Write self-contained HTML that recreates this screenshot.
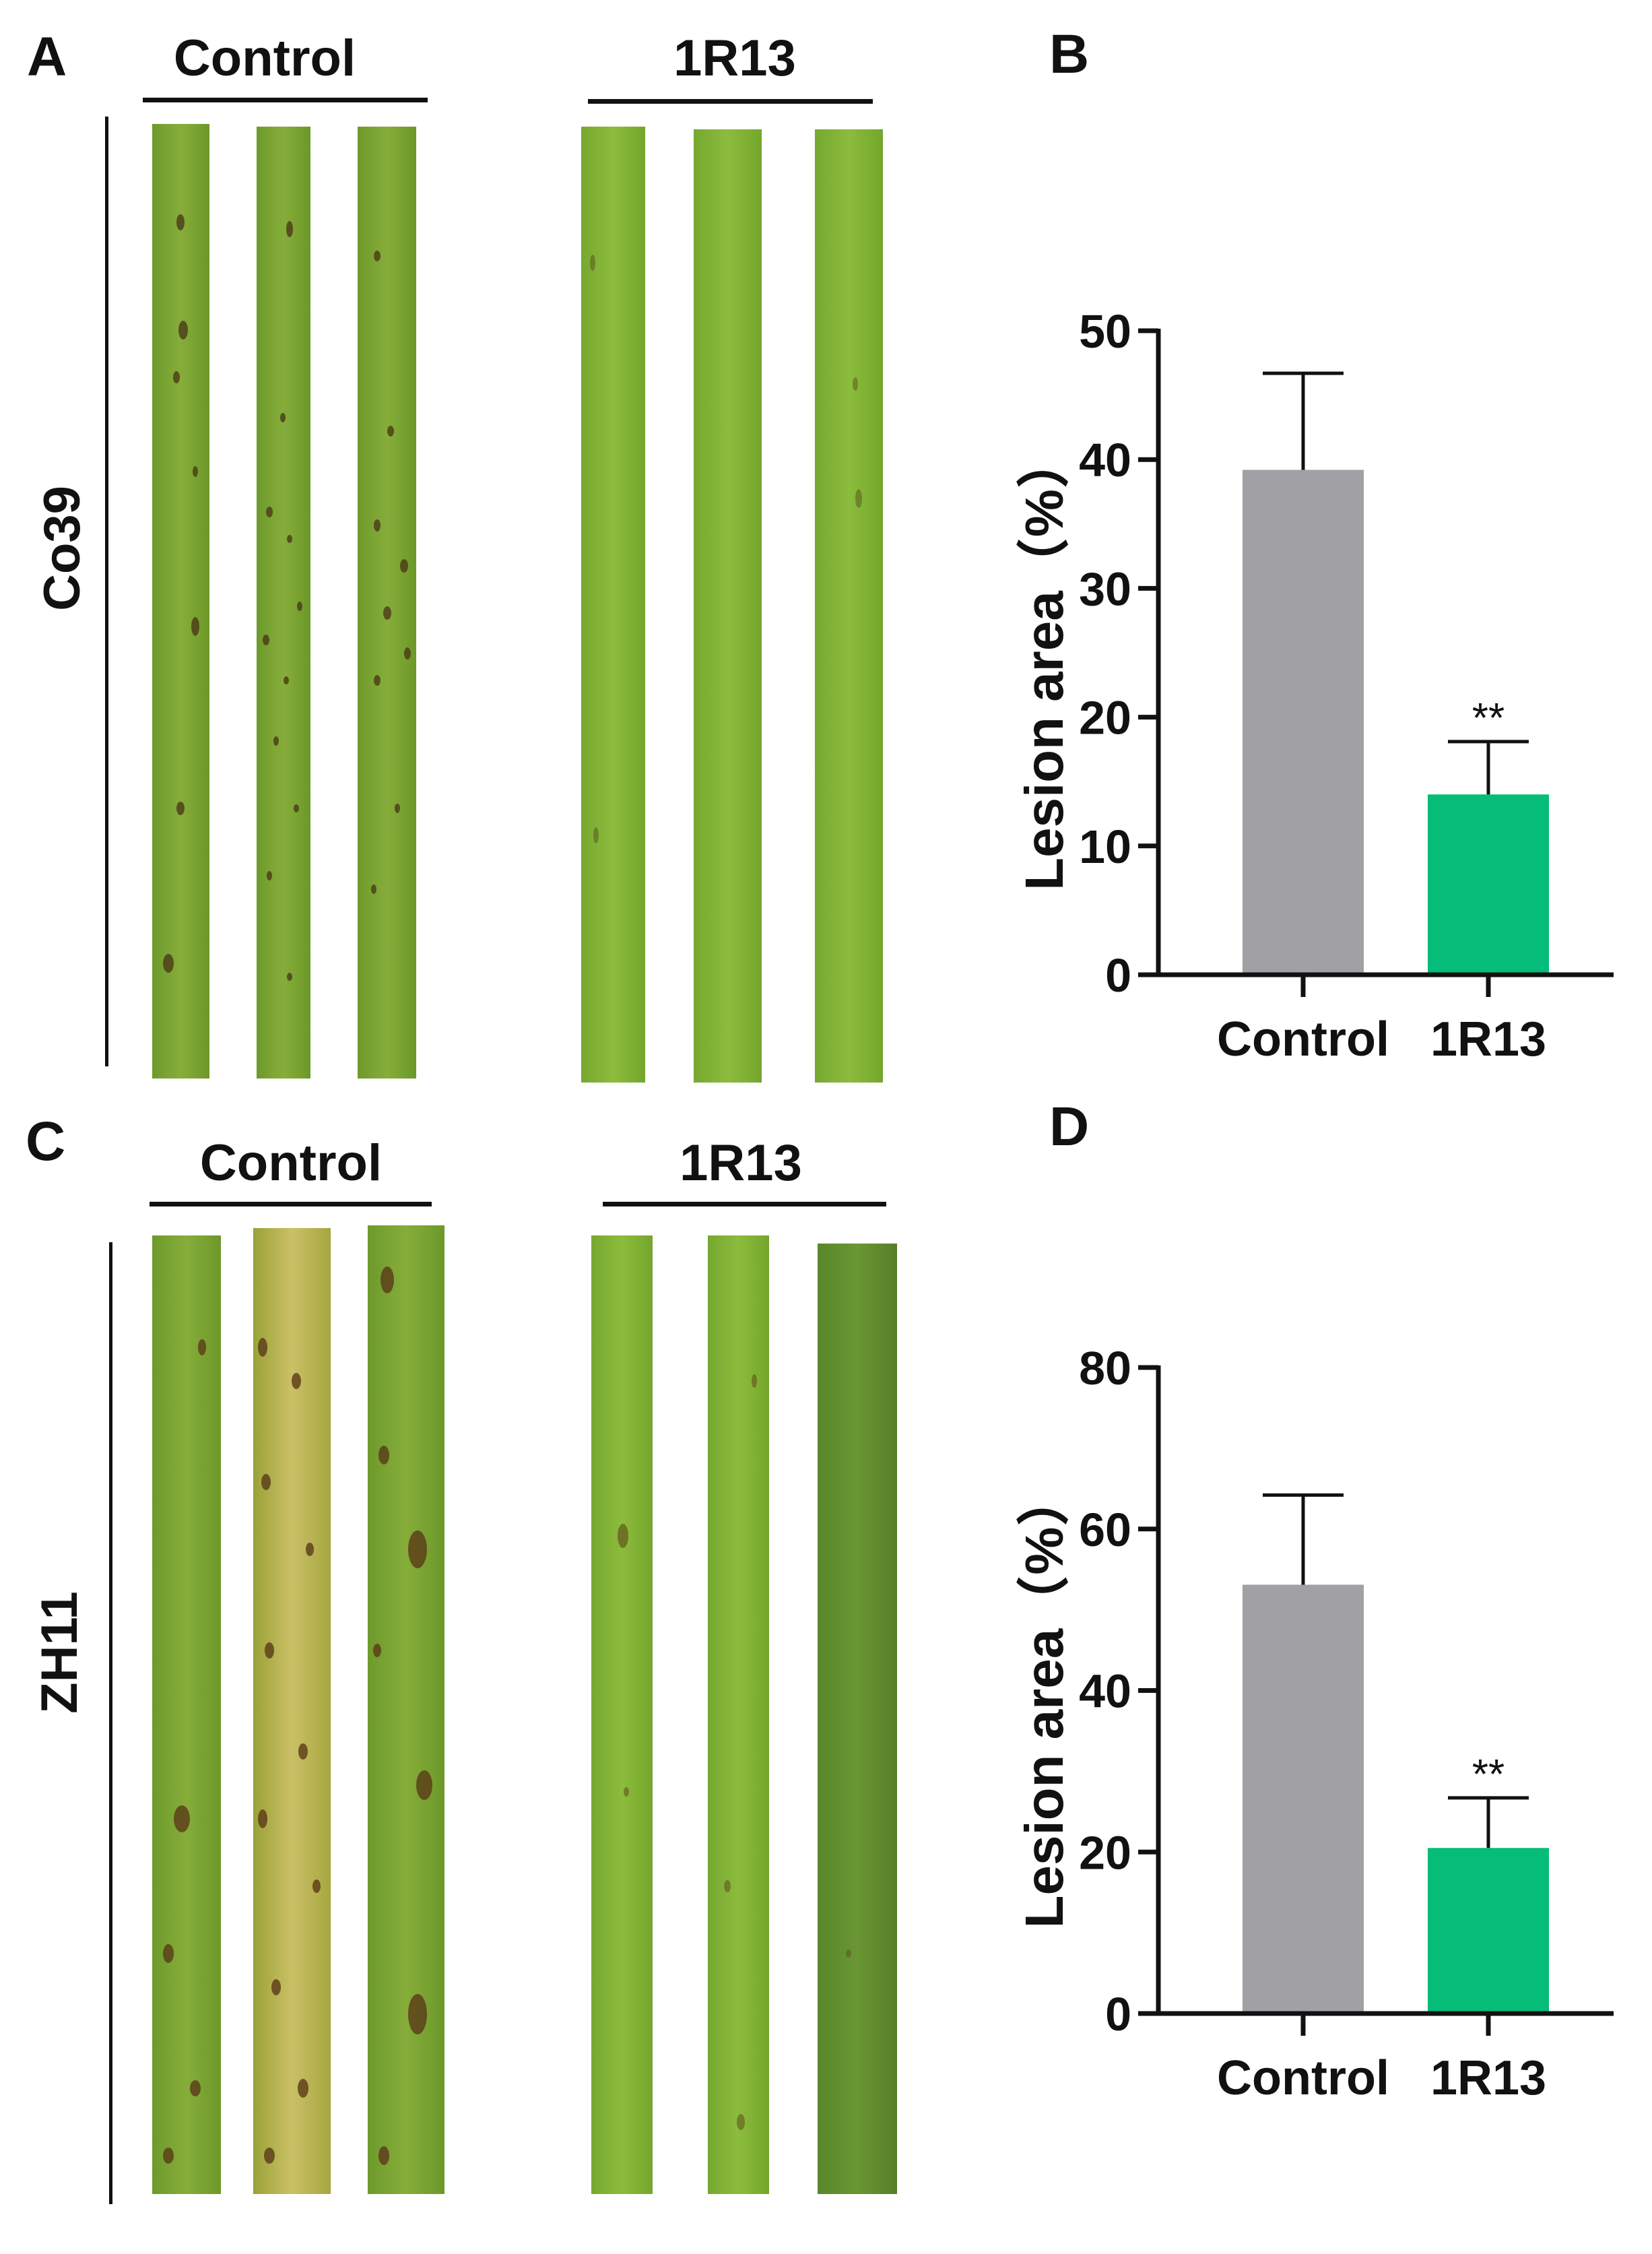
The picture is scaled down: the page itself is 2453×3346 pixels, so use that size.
<!DOCTYPE html>
<html><head><meta charset="utf-8">
<style>
html,body{margin:0;padding:0;background:#fff;}
svg text{font-family:"Liberation Sans","Noto Sans CJK SC",sans-serif;font-weight:bold;fill:#111;}
</style></head>
<body>
<svg id="fig" width="2453" height="3341" viewBox="0 0 2453 3341" xmlns="http://www.w3.org/2000/svg">
<defs>
<linearGradient id="gA" x1="0" x2="1"><stop offset="0" stop-color="#6d9a2c"/><stop offset="0.5" stop-color="#86ad3a"/><stop offset="1" stop-color="#6c9828"/></linearGradient>
<linearGradient id="gB" x1="0" x2="1"><stop offset="0" stop-color="#76a830"/><stop offset="0.5" stop-color="#8cbc3c"/><stop offset="1" stop-color="#74a62c"/></linearGradient>
<linearGradient id="gY" x1="0" x2="1"><stop offset="0" stop-color="#9aa238"/><stop offset="0.5" stop-color="#cbc066"/><stop offset="1" stop-color="#a6a640"/></linearGradient>
<linearGradient id="gD" x1="0" x2="1"><stop offset="0" stop-color="#58882a"/><stop offset="0.5" stop-color="#6a9634"/><stop offset="1" stop-color="#557f26"/></linearGradient>
</defs>

<!-- Panel A -->
<text x="40" y="112" font-size="82">A</text>
<text x="393" y="112" font-size="76" text-anchor="middle">Control</text>
<rect x="212" y="145" width="423" height="7" fill="#111"/>
<text x="1091" y="112" font-size="76" text-anchor="middle">1R13</text>
<rect x="873" y="147" width="423" height="7" fill="#111"/>
<rect x="156" y="173" width="5" height="1410" fill="#111"/>
<text transform="translate(118,814) rotate(-90)" font-size="76" text-anchor="middle">Co39</text>

<g>
<rect x="226" y="184" width="85" height="1417" fill="url(#gA)"/>
<rect x="381" y="188" width="80" height="1413" fill="url(#gA)"/>
<rect x="531" y="188" width="87" height="1413" fill="url(#gA)"/>
<rect x="863" y="188" width="95" height="1419" fill="url(#gB)"/>
<rect x="1030" y="192" width="101" height="1415" fill="url(#gB)"/>
<rect x="1210" y="192" width="101" height="1415" fill="url(#gB)"/>
<g fill="#4a3a18" opacity="0.8">
<ellipse cx="268" cy="330" rx="6" ry="12"/><ellipse cx="272" cy="490" rx="7" ry="14"/><ellipse cx="262" cy="560" rx="5" ry="9"/><ellipse cx="290" cy="930" rx="6" ry="14"/><ellipse cx="268" cy="1200" rx="6" ry="10"/><ellipse cx="250" cy="1430" rx="8" ry="14"/><ellipse cx="290" cy="700" rx="4" ry="8"/>
<ellipse cx="430" cy="340" rx="5" ry="12"/><ellipse cx="420" cy="620" rx="4" ry="7"/><ellipse cx="400" cy="760" rx="5" ry="8"/><ellipse cx="430" cy="800" rx="4" ry="6"/><ellipse cx="445" cy="900" rx="4" ry="7"/><ellipse cx="395" cy="950" rx="5" ry="8"/><ellipse cx="425" cy="1010" rx="4" ry="6"/><ellipse cx="410" cy="1100" rx="4" ry="7"/><ellipse cx="440" cy="1200" rx="4" ry="6"/><ellipse cx="400" cy="1300" rx="4" ry="7"/><ellipse cx="430" cy="1450" rx="4" ry="6"/>
<ellipse cx="560" cy="380" rx="5" ry="8"/><ellipse cx="580" cy="640" rx="5" ry="8"/><ellipse cx="560" cy="780" rx="5" ry="9"/><ellipse cx="600" cy="840" rx="6" ry="10"/><ellipse cx="575" cy="910" rx="6" ry="10"/><ellipse cx="605" cy="970" rx="5" ry="9"/><ellipse cx="560" cy="1010" rx="5" ry="8"/><ellipse cx="590" cy="1200" rx="4" ry="7"/><ellipse cx="555" cy="1320" rx="4" ry="7"/>
<ellipse cx="880" cy="390" rx="4" ry="12" opacity="0.5"/><ellipse cx="885" cy="1240" rx="4" ry="12" opacity="0.5"/><ellipse cx="1270" cy="570" rx="4" ry="10" opacity="0.5"/><ellipse cx="1275" cy="740" rx="5" ry="14" opacity="0.5"/>
</g>
</g>

<!-- Panel C -->
<text x="38" y="1722" font-size="82">C</text>
<text x="432" y="1752" font-size="76" text-anchor="middle">Control</text>
<rect x="222" y="1784" width="419" height="7" fill="#111"/>
<text x="1100" y="1752" font-size="76" text-anchor="middle">1R13</text>
<rect x="895" y="1784" width="421" height="7" fill="#111"/>
<rect x="162" y="1844" width="5" height="1428" fill="#111"/>
<text transform="translate(114,2453) rotate(-90)" font-size="76" text-anchor="middle">ZH11</text>

<g>
<rect x="226" y="1834" width="102" height="1423" fill="url(#gA)"/>
<rect x="376" y="1823" width="115" height="1434" fill="url(#gY)"/>
<rect x="546" y="1819" width="114" height="1438" fill="url(#gA)"/>
<rect x="878" y="1834" width="91" height="1423" fill="url(#gB)"/>
<rect x="1051" y="1834" width="91" height="1423" fill="url(#gB)"/>
<rect x="1214" y="1846" width="118" height="1411" fill="url(#gD)"/>
<g fill="#5a3a18" opacity="0.8">
<ellipse cx="300" cy="2000" rx="6" ry="12"/><ellipse cx="270" cy="2700" rx="12" ry="20"/><ellipse cx="250" cy="2900" rx="8" ry="14"/><ellipse cx="290" cy="3100" rx="8" ry="12"/><ellipse cx="250" cy="3200" rx="8" ry="12"/>
<ellipse cx="390" cy="2000" rx="7" ry="14"/><ellipse cx="440" cy="2050" rx="7" ry="12"/><ellipse cx="395" cy="2200" rx="7" ry="12"/><ellipse cx="460" cy="2300" rx="6" ry="10"/><ellipse cx="400" cy="2450" rx="7" ry="12"/><ellipse cx="450" cy="2600" rx="7" ry="12"/><ellipse cx="390" cy="2700" rx="7" ry="14"/><ellipse cx="470" cy="2800" rx="6" ry="10"/><ellipse cx="410" cy="2950" rx="7" ry="12"/><ellipse cx="450" cy="3100" rx="8" ry="14"/><ellipse cx="400" cy="3200" rx="8" ry="12"/>
<ellipse cx="575" cy="1900" rx="10" ry="20"/><ellipse cx="570" cy="2160" rx="8" ry="14"/><ellipse cx="620" cy="2300" rx="14" ry="28"/><ellipse cx="630" cy="2650" rx="12" ry="22"/><ellipse cx="560" cy="2450" rx="6" ry="10"/><ellipse cx="620" cy="2990" rx="14" ry="30"/><ellipse cx="570" cy="3200" rx="8" ry="14"/>
<ellipse cx="925" cy="2280" rx="8" ry="18" opacity="0.7"/><ellipse cx="930" cy="2660" rx="4" ry="7" opacity="0.6"/><ellipse cx="1120" cy="2050" rx="4" ry="10" opacity="0.6"/><ellipse cx="1080" cy="2800" rx="5" ry="9" opacity="0.6"/><ellipse cx="1100" cy="3150" rx="6" ry="12" opacity="0.6"/><ellipse cx="1260" cy="2900" rx="4" ry="6" opacity="0.5"/>
</g>
</g>

<text x="1558" y="108" font-size="82">B</text>
<text x="1558" y="1700" font-size="82">D</text>
<g id="chartB"></g>
<g id="chartD"></g>
</svg>
<script>
const categories = ["Control", "1R13"];
const valuesB = [39.2, 14.0];
const errorsB = [7.5, 4.1];
const ticksB = [0, 10, 20, 30, 40, 50];
const valuesD = [53.1, 20.5];
const errorsD = [11.1, 6.2];
const ticksD = [0, 20, 40, 60, 80];
const sigLabels = ["", "**"];
const colors = ["#a0a0a5", "#05bd78"];

const NS = "http://www.w3.org/2000/svg";
function mk(parent, tag, attrs, text) {
  const e = document.createElementNS(NS, tag);
  for (const k in attrs) e.setAttribute(k, attrs[k]);
  if (text !== undefined) e.textContent = text;
  parent.appendChild(e);
  return e;
}
function drawChart(gid, vals, errs, ticks, y0, yTop, prefix) {
  const g = document.getElementById(gid);
  const axX = 1720, xEnd = 2396;
  const maxV = ticks[ticks.length - 1];
  const y = v => y0 - (v / maxV) * (y0 - yTop);
  const centers = [1935, 2210];
  const bw = 180;
  vals.forEach((v, i) => {
    const b = mk(g, "rect", {x: centers[i] - bw / 2, y: y(v), width: bw, height: y0 - y(v), fill: colors[i]});
    
    
    const e = mk(g, "path", {d: `M${centers[i]},${y(v)}V${y(v + errs[i])}M${centers[i] - 60},${y(v + errs[i])}H${centers[i] + 60}`, stroke: "#111", "stroke-width": 5, fill: "none"});
    
    
    if (sigLabels[i]) {
      const s = mk(g, "text", {x: centers[i], y: y(v + errs[i]) - 14, "font-size": 62, "text-anchor": "middle", style: "font-weight:normal"}, sigLabels[i]);
      
      
    }
    const t = mk(g, "path", {d: `M${centers[i]},${y0}V${y0 + 33}`, stroke: "#111", "stroke-width": 7});
    
    
    const l = mk(g, "text", {x: centers[i], y: y0 + 120, "font-size": 72, "text-anchor": "middle"}, categories[i]);
    
    
  });
  ticks.forEach(tv => {
    const t = mk(g, "path", {d: `M${axX - 30},${y(tv)}H${axX}`, stroke: "#111", "stroke-width": 7});
    
    
    const l = mk(g, "text", {x: axX - 40, y: y(tv) + 25, "font-size": 70, "text-anchor": "end"}, String(tv));
    
    
  });
  const ya = mk(g, "path", {d: `M${axX},${yTop - 3}V${y0}`, stroke: "#111", "stroke-width": 7});
  
  
  const xa = mk(g, "path", {d: `M${axX - 30},${y0}H${xEnd}`, stroke: "#111", "stroke-width": 7});
  
  
  const ttl = mk(g, "text", {transform: `translate(1578,${(y0 + yTop) / 2 + 15}) rotate(-90)`, "font-size": 80, "text-anchor": "middle"}, "Lesion area（%）");
  
  
}
drawChart("chartB", valuesB, errorsB, ticksB, 1447, 491, "b");
drawChart("chartD", valuesD, errorsD, ticksD, 2989, 2030, "d");
</script>
</body></html>
